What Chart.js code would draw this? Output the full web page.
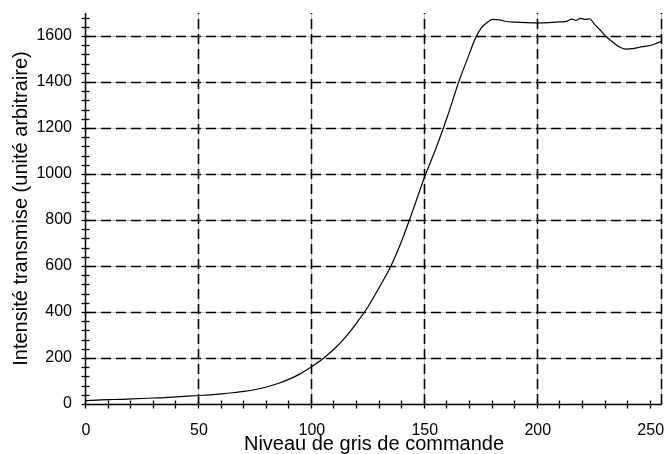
<!DOCTYPE html>
<html><head><meta charset="utf-8">
<script src="https://cdn.jsdelivr.net/npm/chart.js@4.4.1/dist/chart.umd.min.js"></script>
<style>html,body{margin:0;padding:0;background:#fff;}canvas{display:block;}</style>
</head><body>
<canvas id="c" width="666" height="454"></canvas>
<script>
// ---- data ----
const grayLevels = [0,5,10,15,20,25,30,35,40,45,50,55,60,65,70,75,80,85,90,95,100,105,110,115,120,125,130,135,140,145,150,155,160,165,170,172,175,178,180,183,186,190,195,200,205,210,213,215,217,219,221,223,225,228,230,233,236,239,242,245,248,251,253,255];
const intensity  = [15,17,19,20,22,24,26,28,31,34,37,40,44,49,55,63,74,89,108,132,163,198,240,292,355,425,510,600,715,850,990,1113,1250,1400,1530,1582,1635,1662,1672,1670,1663,1660,1658,1657,1658,1661,1665,1673,1668,1677,1672,1675,1652,1622,1600,1575,1553,1543,1545,1551,1556,1562,1570,1578];
const xTitle = 'Niveau de gris de commande';
const yTitle = 'Intensité transmise (unité arbitraire)';
const xGridValues = [50,100,150,200,255];
const yGridValues = [200,400,600,800,1000,1200,1400,1600];
const xMinorStep = 10;
const yMinorStep = 40;

const FONT = '"Liberation Sans", Arial, Helvetica, sans-serif';

const deco = {
  id: 'deco',
  beforeDatasetsDraw(chart) {
    const {ctx, chartArea: a, scales: {x, y}} = chart;
    ctx.save();
    const seg = (x1, y1, x2, y2) => { ctx.beginPath(); ctx.moveTo(x1, y1); ctx.lineTo(x2, y2); ctx.stroke(); };
    ctx.strokeStyle = '#c4c4c4'; ctx.lineWidth = 1;
    yGridValues.forEach(v => { const p = Math.round(y.getPixelForValue(v)) + 0.5; seg(a.left, p, a.right, p); });
    xGridValues.forEach(v => { const p = Math.round(x.getPixelForValue(v)) - 0.5; seg(p, a.top, p, a.bottom); });
    ctx.strokeStyle = '#000'; ctx.lineWidth = 1.6; ctx.setLineDash([10, 5]);
    yGridValues.forEach(v => { const p = Math.round(y.getPixelForValue(v)) + 0.5; seg(a.left, p, a.right, p); });
    xGridValues.forEach(v => { const p = Math.round(x.getPixelForValue(v)) - 0.5; seg(p, a.bottom, p, a.top); });
    ctx.restore();
  },
  afterDatasetsDraw(chart) {
    const {ctx, chartArea: a, scales: {x, y}} = chart;
    ctx.save();
    const seg = (x1, y1, x2, y2) => { ctx.beginPath(); ctx.moveTo(x1, y1); ctx.lineTo(x2, y2); ctx.stroke(); };
    ctx.strokeStyle = '#000'; ctx.lineWidth = 1.5;
    const y0 = Math.round(y.getPixelForValue(0)) + 0.5;
    const x0 = Math.round(x.getPixelForValue(0)) - 0.5;
    seg(a.left, y0, a.right, y0);
    seg(x0, a.top, x0, a.bottom);
    ctx.lineWidth = 1.3;
    for (let v = 0; v <= x.max; v += xMinorStep) {
      const p = Math.round(x.getPixelForValue(v)) - 0.5;
      seg(p, y0 - 4, p, y0 + 4);
    }
    for (let v = 0; v <= y.max; v += yMinorStep) {
      const p = Math.round(y.getPixelForValue(v)) + 0.5;
      seg(x0 - 4, p, x0 + 4, p);
    }
    ctx.restore();
  }
};

new Chart(document.getElementById('c'), {
  type: 'line',
  data: {
    datasets: [{
      data: grayLevels.map((g, i) => ({x: g, y: intensity[i]})),
      borderColor: '#000', borderWidth: 1.2, pointRadius: 0, fill: false,
      cubicInterpolationMode: 'monotone'
    }]
  },
  options: {
    responsive: false, animation: false, devicePixelRatio: 1,
    layout: {padding: {top: 13, right: 4, left: 0, bottom: 0}},
    plugins: {legend: {display: false}, tooltip: {enabled: false}},
    scales: {
      x: {
        type: 'linear', min: 0, max: 255,
        border: {display: false}, grid: {display: false, drawTicks: false},
        ticks: {stepSize: 50, includeBounds: false, padding: 17, maxRotation: 0, autoSkip: false,
                color: '#000', font: {family: FONT, size: 16}, callback: v => String(v)},
        title: {display: true, text: xTitle, color: '#000', font: {family: FONT, size: 20, lineHeight: 1},
                padding: {top: 0, bottom: 0}},
        afterFit(s) { s.height = 50; s.paddingLeft = 0; s.paddingRight = 0; }
      },
      y: {
        type: 'linear', min: 0, max: 1700,
        border: {display: false}, grid: {display: false, drawTicks: false},
        ticks: {stepSize: 200, includeBounds: false, padding: 14, autoSkip: false,
                color: '#000', font: {family: FONT, size: 16}, callback: v => String(v)},
        title: {display: true, text: yTitle, color: '#000', font: {family: FONT, size: 20, lineHeight: 1},
                padding: {top: 11, bottom: 0}},
        afterFit(s) { s.width = 86; s.paddingTop = 0; s.paddingBottom = 0; }
      }
    }
  },
  plugins: [deco]
});
</script>
</body></html>
